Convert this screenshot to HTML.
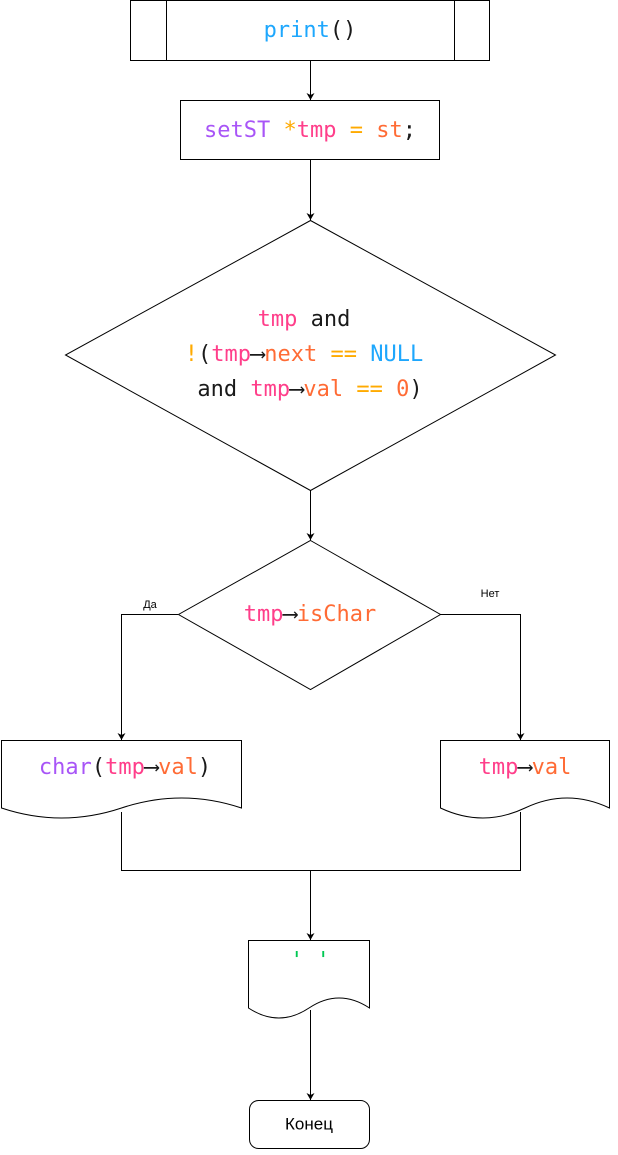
<!DOCTYPE html>
<html><head><meta charset="utf-8"><style>
html,body{margin:0;padding:0;background:#fff}
svg text{font-family:"DejaVu Sans Mono","Liberation Mono",monospace;font-size:22px}
.s{font-family:"Liberation Sans","DejaVu Sans",sans-serif!important}
.k{fill:#1a1a1a}.p{fill:#FF3E8A}.o{fill:#FF6B35}.y{fill:#FFAA00}.b{fill:#1EA7FD}.v{fill:#A855F7}.g{fill:#00C853}
</style></head><body>
<svg width="618" height="1150" viewBox="0 0 618 1150" xmlns="http://www.w3.org/2000/svg">
<defs><marker id="a" markerWidth="10" markerHeight="10" refX="8" refY="5" orient="auto" markerUnits="userSpaceOnUse"><path d="M1,1 L8,5 L1,9 L3,5 Z" fill="#000"/></marker></defs>
<g fill="#fff" stroke="#000" stroke-width="1">
<rect x="130.5" y="0.5" width="359" height="60"/>
<line x1="166.5" y1="0.5" x2="166.5" y2="60.5"/><line x1="454.5" y1="0.5" x2="454.5" y2="60.5"/>
<rect x="180.5" y="100.5" width="259" height="59"/>
<path d="M310.5,220.5 L555.5,355 L310.5,490.5 L65.5,355 Z"/>
<path d="M310.5,540.5 L440.5,614.5 L310.5,689.5 L178.5,614.5 Z"/>
<path d="M1.5,740.5 H241.5 V808 Q181.5,788 121.5,808 T1.5,808 Z"/>
<path d="M440.5,740.5 H609.5 V808 Q567,788 525,808 T440.5,808 Z"/>
<path d="M248.5,940.5 H369.5 V1008 Q339,988 309,1008 T248.5,1008 Z"/>
<rect x="249.5" y="1100.5" width="120" height="48" rx="9"/>
</g>
<g fill="none" stroke="#000" stroke-width="1">
<line x1="310.5" y1="61" x2="310.5" y2="100" marker-end="url(#a)"/>
<line x1="310.5" y1="160" x2="310.5" y2="220" marker-end="url(#a)"/>
<line x1="310.5" y1="490" x2="310.5" y2="540" marker-end="url(#a)"/>
<polyline points="178,614.5 121.5,614.5 121.5,740" marker-end="url(#a)"/>
<polyline points="440,614.5 520.5,614.5 520.5,740" marker-end="url(#a)"/>
<polyline points="121.5,812 121.5,870.5 520.5,870.5 520.5,812"/>
<line x1="310.5" y1="870.5" x2="310.5" y2="940" marker-end="url(#a)"/>
<line x1="310.5" y1="1010" x2="310.5" y2="1100" marker-end="url(#a)"/>
</g>
<g text-anchor="middle" dominant-baseline="central">
<text x="310" y="30"><tspan class="b">print</tspan><tspan class="k">()</tspan></text>
<text x="310" y="130"><tspan class="v">setST</tspan> <tspan class="y">*</tspan><tspan class="p">tmp</tspan> <tspan class="y">=</tspan> <tspan class="o">st</tspan><tspan class="k">;</tspan></text>
<text x="304" y="319"><tspan class="p">tmp</tspan> <tspan class="k">and</tspan></text>
<text x="304" y="354"><tspan class="y">!</tspan><tspan class="k">(</tspan><tspan class="p">tmp</tspan><tspan class="k">⟶</tspan><tspan class="o">next</tspan> <tspan class="y">==</tspan> <tspan class="b">NULL</tspan></text>
<text x="310" y="389"><tspan class="k">and</tspan> <tspan class="p">tmp</tspan><tspan class="k">⟶</tspan><tspan class="o">val</tspan> <tspan class="y">==</tspan> <tspan class="o">0</tspan><tspan class="k">)</tspan></text>
<text x="310" y="614"><tspan class="p">tmp</tspan><tspan class="k">⟶</tspan><tspan class="o">isChar</tspan></text>
<text x="125" y="767"><tspan class="v">char</tspan><tspan class="k">(</tspan><tspan class="p">tmp</tspan><tspan class="k">⟶</tspan><tspan class="o">val</tspan><tspan class="k">)</tspan></text>
<text x="525" y="767"><tspan class="p">tmp</tspan><tspan class="k">⟶</tspan><tspan class="o">val</tspan></text>
<text x="310" y="961" class="g">' '</text>
<text x="309" y="1124" class="s" style="font-size:17px" fill="#000">Конец</text>
<text x="150" y="605" class="s" style="font-size:11px" fill="#000">Да</text>
<text x="490" y="594" class="s" style="font-size:11px" fill="#000">Нет</text>
</g>
</svg>
</body></html>
